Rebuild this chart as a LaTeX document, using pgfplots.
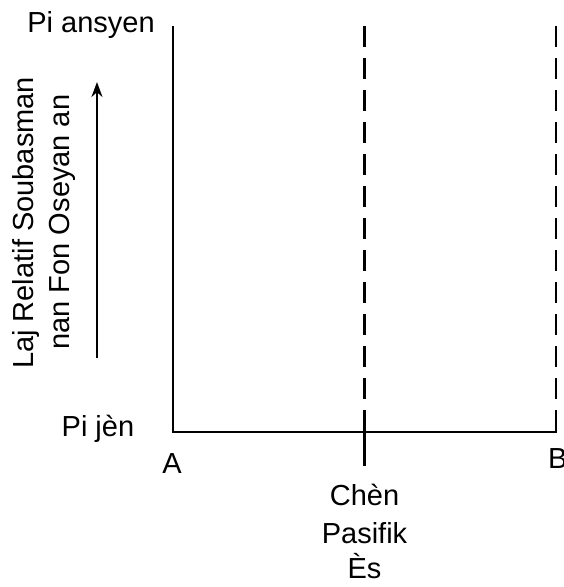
\documentclass[border=0pt]{standalone}
\usepackage{fontspec}
\setmainfont{Liberation Sans}
\usepackage{pgfplots}
\pgfplotsset{compat=1.18}
\usetikzlibrary{arrows.meta}
\begin{document}
\begin{tikzpicture}[font=\fontsize{29}{37}\selectfont]
\useasboundingbox (-173pt,-155pt) rectangle (391pt,432pt);
\begin{axis}[
  at={(0,0)}, anchor=south west,
  scale only axis, width=383pt, height=406pt,
  xmin=0, xmax=2, ymin=0, ymax=1,
  hide axis, clip=false,
]
% frame: left axis, bottom axis, B tick
\addplot[black, line width=2.5pt, line join=miter] coordinates {(0,1) (0,0) (2,0) (2,0.054)};
% dashed boundaries
\addplot[black, line width=2.5pt, dash pattern=on 21pt off 11pt] coordinates {(1,1) (1,0.054)};
\addplot[black, line width=2.5pt, dash pattern=on 21pt off 11pt] coordinates {(2,1) (2,0.054)};
% Chen tick
\addplot[black, line width=2.5pt] coordinates {(1,0.054) (1,-0.084)};
% arrow
\addplot[black, line width=2pt, -{Stealth[length=15pt,width=11pt]}] coordinates {(-0.397,0.182) (-0.397,0.862)};
% labels
\node[anchor=base, inner sep=0pt] at (axis cs:-0.428,0.985) {Pi ansyen};
\node[anchor=base, inner sep=0pt] at (axis cs:-0.392,-0.0123) {Pi jèn};
\node[anchor=base, inner sep=0pt] at (axis cs:-0.005,-0.103) {A};
\node[anchor=base west, inner sep=0pt] at (axis cs:1.958,-0.0887) {B};
\node[anchor=base, inner sep=0pt] at (axis cs:1,-0.180) {Chèn};
\node[anchor=base, inner sep=0pt] at (axis cs:1,-0.274) {Pasifik};
\node[anchor=base, inner sep=0pt] at (axis cs:1,-0.362) {Ès};
\node[anchor=base, inner sep=0pt, rotate=90] at (axis cs:-0.731,0.515) {Laj Relatif Soubasman};
\node[anchor=base, inner sep=0pt, rotate=90] at (axis cs:-0.538,0.517) {nan Fon Oseyan an};
\end{axis}
\end{tikzpicture}
\end{document}
